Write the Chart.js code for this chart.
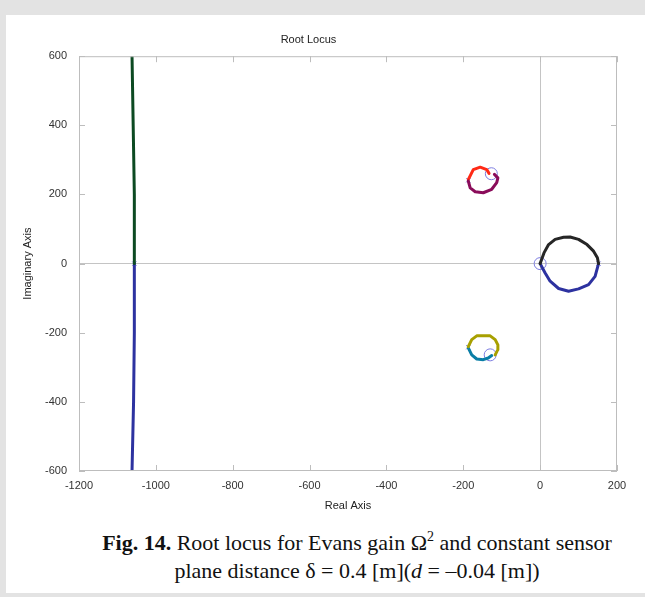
<!DOCTYPE html>
<html>
<head>
<meta charset="utf-8">
<script src="https://cdn.jsdelivr.net/npm/chart.js@4/dist/chart.umd.min.js"></script>
<style>
  html, body { margin: 0; padding: 0; width: 645px; height: 597px; overflow: hidden; background: #e3e3e3; }
  #panel { position: absolute; left: 6px; top: 15px; width: 639px; height: 578px; background: #fff; }
  #rootLocus { position: absolute; left: 0; top: 0; }
  .caption { position: absolute; left: 57px; width: 600px; text-align: center; font-family: "Liberation Serif", "Times New Roman", serif; font-size: 22px; line-height: 28px; color: #111; white-space: nowrap; }
</style>
</head>
<body>
<div id="panel"></div>
<canvas id="rootLocus" width="645" height="520"></canvas>
<div class="caption" style="top:529px"><b>Fig. 14.</b> Root locus for Evans gain Ω<sup style="font-size:14px;vertical-align:9px;line-height:0">2</sup> and constant sensor</div>
<div class="caption" style="top:557px">plane distance δ = 0.4 [m](<i>d</i> = –0.04 [m])</div>
<script>
// Axis ticks
const realTicks = [-1200, -1000, -800, -600, -400, -200, 0, 200];
const imagTicks = [-600, -400, -200, 0, 200, 400, 600];

// Branches (real part, imaginary part)
const upperFarRe = [-1056, -1056, -1059, -1062];
const upperFarIm = [0, 200, 400, 600];
const lowerFarRe = [-1056, -1056, -1058, -1062];
const lowerFarIm = [0, -200, -400, -600];

const rightTopRe = [0, 10, 22, 39, 61, 78, 100, 122, 139, 149, 152];
const rightTopIm = [0, 31, 55, 70, 76, 77, 70, 55, 36, 17, 0];
const rightBotRe = [0, 13, 26, 48, 74, 100, 126, 143, 152];
const rightBotIm = [0, -27, -51, -72, -80, -73, -61, -37, 0];

const upLoopARe = [-187, -174, -156, -139, -133];
const upLoopAIm = [243, 272, 279, 272, 261];
const upLoopBRe = [-187, -182, -169, -148, -126, -113, -110, -119];
const upLoopBIm = [239, 219, 208, 205, 215, 234, 248, 258];

const lowLoopARe = [-187, -178, -165, -130, -117, -110, -110, -117];
const lowLoopAIm = [-240, -220, -209, -209, -220, -235, -249, -264];
const lowLoopBRe = [-187, -178, -165, -148, -135, -126];
const lowLoopBIm = [-244, -264, -276, -278, -273, -266];

// Zeros (o) and poles (x)
const zerosRe = [0, -127, -130];
const zerosIm = [0, 260, -264];
const polesRe = [-1056, -187, -187, 152];
const polesIm = [0, 241, -242, 0];

const pts = (re, im) => re.map((x, i) => ({ x: x, y: im[i] }));

function branch(re, im, color) {
    return {
        data: pts(re, im),
        showLine: true,
        borderColor: color,
        backgroundColor: color,
        borderWidth: 3,
        pointRadius: 0,
        tension: 0,
        borderJoinStyle: 'round',
        borderCapStyle: 'round',
    };
}

const fontFamily = '"Liberation Sans", Arial, Helvetica, sans-serif';

// Matlab style box with inward ticks
const boxTicks = {
    id: 'boxTicks',
    afterDatasetsDraw(chart) {
        const { ctx, chartArea: a, scales } = chart;
        ctx.save();
        ctx.strokeStyle = '#bdbdbd';
        ctx.lineWidth = 1;
        ctx.strokeRect(a.left + 0.5, a.top + 0.5, a.right - a.left - 1, a.bottom - a.top - 1);
        ctx.beginPath();
        realTicks.forEach((v) => {
            const px = Math.round(scales.x.getPixelForValue(v)) + 0.5;
            ctx.moveTo(px, a.bottom); ctx.lineTo(px, a.bottom - 6);
            ctx.moveTo(px, a.top); ctx.lineTo(px, a.top + 6);
        });
        imagTicks.forEach((v) => {
            const py = Math.round(scales.y.getPixelForValue(v)) + 0.5;
            ctx.moveTo(a.left, py); ctx.lineTo(a.left + 6, py);
            ctx.moveTo(a.right, py); ctx.lineTo(a.right - 6, py);
        });
        ctx.stroke();
        ctx.restore();
    }
};

const ctx = document.getElementById('rootLocus').getContext('2d');

const chart = new Chart(ctx, {
    type: 'scatter',
    data: {
        datasets: [
            branch(upperFarRe, upperFarIm, '#0c4a22'),
            branch(lowerFarRe, lowerFarIm, '#2d32a0'),
            branch(rightTopRe, rightTopIm, '#262626'),
            branch(rightBotRe, rightBotIm, '#2d32a0'),
            branch(upLoopBRe, upLoopBIm, '#8a0c5a'),
            branch(upLoopARe, upLoopAIm, '#ff2a16'),
            branch(lowLoopARe, lowLoopAIm, '#a8a000'),
            branch(lowLoopBRe, lowLoopBIm, '#0a7ea6'),
            {
                data: pts(zerosRe, zerosIm),
                pointStyle: 'circle',
                pointRadius: 6,
                pointBorderWidth: 1,
                pointBorderColor: '#7d7de0',
                pointBackgroundColor: 'rgba(0,0,0,0)',
            },
            {
                data: pts(polesRe, polesIm),
                pointStyle: 'crossRot',
                pointRadius: 3,
                pointBorderWidth: 1,
                pointBorderColor: '#7d7de0',
            },
        ]
    },
    options: {
        responsive: false,
        animation: false,
        layout: {
            padding: { left: 0, right: 28, top: 0, bottom: 0 },
        },
        scales: {
            x: {
                type: 'linear',
                min: -1200,
                max: 200,
                afterBuildTicks: (scale) => { scale.ticks = realTicks.map((v) => ({ value: v })); },
                afterFit: (scale) => { scale.height = 49; },
                grid: {
                    drawTicks: false,
                    color: (c) => (c.tick && c.tick.value === 0 ? '#c4c4c4' : 'rgba(0,0,0,0)'),
                },
                border: { display: false },
                ticks: {
                    padding: 8,
                    color: '#333',
                    font: { family: fontFamily, size: 11 },
                    callback: (v) => String(v),
                },
                title: {
                    display: true,
                    text: 'Real Axis',
                    color: '#222',
                    padding: { top: 0, bottom: 7 },
                    font: { family: fontFamily, size: 11 },
                },
            },
            y: {
                type: 'linear',
                min: -600,
                max: 600,
                afterBuildTicks: (scale) => { scale.ticks = imagTicks.map((v) => ({ value: v })); },
                afterFit: (scale) => { scale.width = 79; },
                grid: {
                    drawTicks: false,
                    color: (c) => (c.tick && c.tick.value === 0 ? '#c4c4c4' : 'rgba(0,0,0,0)'),
                },
                border: { display: false },
                ticks: {
                    padding: 12,
                    color: '#333',
                    font: { family: fontFamily, size: 11 },
                    callback: (v) => String(v),
                },
                title: {
                    display: true,
                    text: 'Imaginary Axis',
                    color: '#222',
                    padding: { top: 21, bottom: 0 },
                    font: { family: fontFamily, size: 11 },
                },
            },
        },
        plugins: {
            legend: { display: false },
            tooltip: { enabled: false },
            title: {
                display: true,
                text: 'Root Locus',
                color: '#222',
                padding: { top: 33, bottom: 10 },
                font: { family: fontFamily, size: 11, weight: 'normal' },
            },
        },
    },
    plugins: [boxTicks],
});
</script>
</body>
</html>
